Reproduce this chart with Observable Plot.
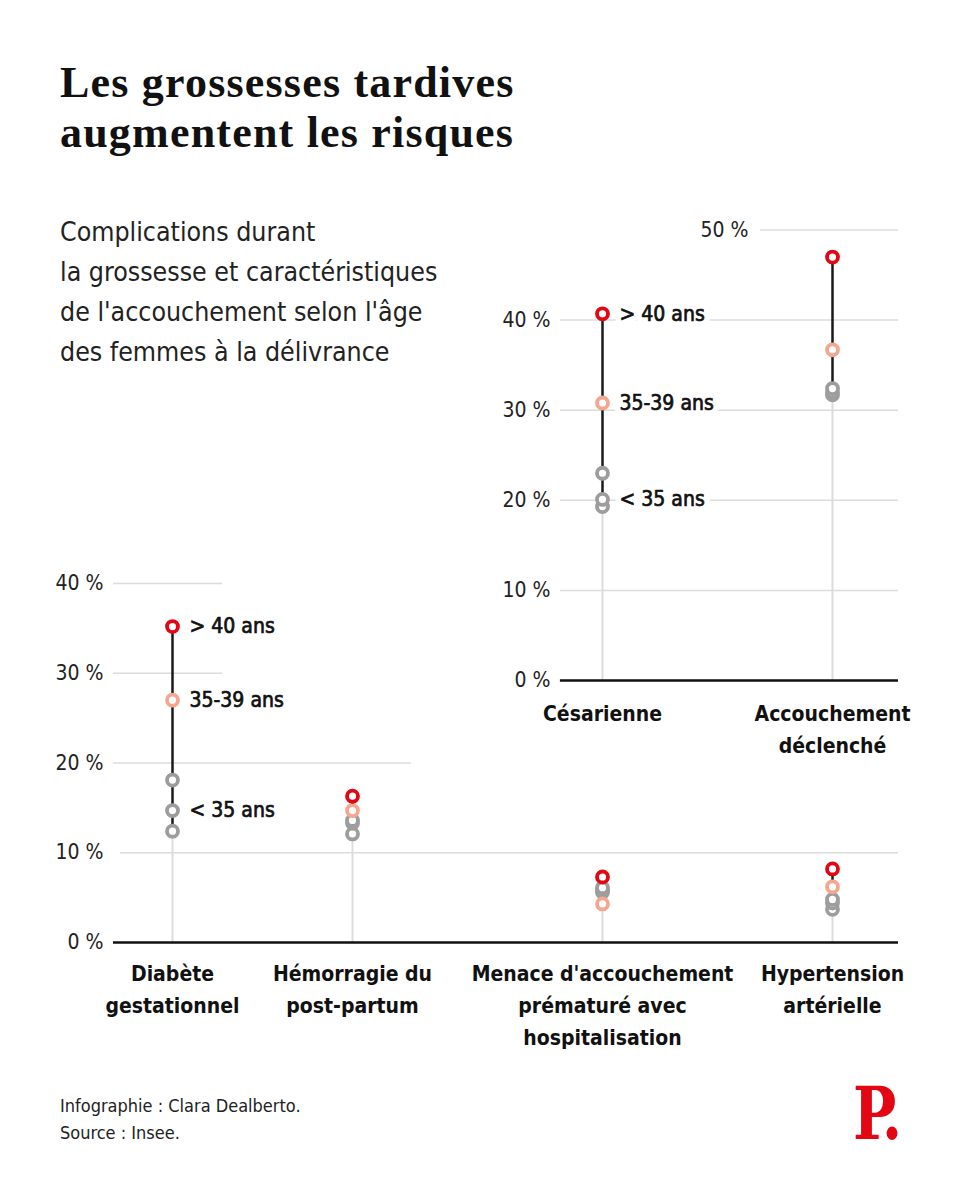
<!DOCTYPE html>
<html lang="fr">
<head>
<meta charset="utf-8">
<script src="https://cdn.jsdelivr.net/npm/d3@7"></script>
<script src="https://cdn.jsdelivr.net/npm/@observablehq/plot@0.6"></script>
<style>
  html, body { margin: 0; padding: 0; background: #fff; }
  #page { position: relative; width: 960px; height: 1201px; background: #fff; overflow: hidden; }
  .cond { font-family: "Liberation Sans Narrow", "DejaVu Sans Condensed", "Roboto Condensed", Roboto, sans-serif; }
  #title { position: absolute; left: 60px; top: 58px; margin: 0; font-family: "Liberation Serif", serif; font-weight: 700; font-size: 44px; letter-spacing: 1.2px; line-height: 50px; color: #111; }
  #subtitle { position: absolute; left: 60px; top: 212px; font-size: 26.5px; line-height: 40px; color: #222; }
  #caption { position: absolute; left: 60px; top: 1092px; font-size: 18px; line-height: 27px; color: #222; }
  #logo { position: absolute; left: 853px; top: 1078px; font-family: "DejaVu Serif", serif; font-weight: 700; font-size: 72px; color: #e30613; letter-spacing: -6px; transform: scaleX(0.8); transform-origin: left top; line-height: 1; }
  #topChart { position: absolute; left: 0; top: 200px; }
  #bottomChart { position: absolute; left: 0; top: 560px; }
</style>
</head>
<body>
<div id="page">
  <h1 id="title">Les grossesses tardives<br>augmentent les risques</h1>
  <div id="subtitle" class="cond">Complications durant<br>la grossesse et caractéristiques<br>de l'accouchement selon l'âge<br>des femmes à la délivrance</div>
  <div id="bottomChart"></div>
  <div id="topChart"></div>
  <div id="caption" class="cond">Infographie : Clara Dealberto.<br>Source : Insee.</div>
  <div id="logo">P.</div>
</div>
<script>
// ---------- Data ----------
const ageGroups = ["< 35 ans", "35-39 ans", "> 40 ans"];

const bottomCategories = ["Diabète gestationnel", "Hémorragie du post-partum", "Menace d'accouchement prématuré avec hospitalisation", "Hypertension artérielle"];
const bottomTickLabels = ["Diabète\ngestationnel", "Hémorragie du\npost-partum", "Menace d'accouchement\nprématuré avec\nhospitalisation", "Hypertension\nartérielle"];
const bottomUnder35 = [[12.4, 14.7, 18.1], [12.1, 13.3, 13.6], [5.6, 5.8, 6.1], [3.7, 4.4, 4.8]];
const bottom35to39 = [27.0, 14.7, 4.3, 6.2];
const bottomOver40 = [35.2, 16.3, 7.3, 8.2];
const bottomYTicks = [0, 10, 20, 30, 40];

const topCategories = ["Césarienne", "Accouchement déclenché"];
const topTickLabels = ["Césarienne", "Accouchement\ndéclenché"];
const topUnder35 = [[19.3, 20.1, 23.0], [31.7, 32.0, 32.4]];
const top35to39 = [30.8, 36.7];
const topOver40 = [40.7, 47.0];
const topYTicks = [0, 10, 20, 30, 40];
const topYTickHigh = [50];

// ---------- Styling / layout ----------
const COND = '"Liberation Sans Narrow", "DejaVu Sans Condensed", "Roboto Condensed", Roboto, sans-serif';
const colorScale = {domain: ageGroups, range: ["#9d9d9d", "#f5a68e", "#e30613"]};
const GRID = "#dcdcdc";
// column placement (piecewise x scale) and gridline extents in column units
const bottomColumnRange = [172, 352, 602, 832];
const topColumnRange = [602, 832];
const bottomGridExtent = {0: [-0.328, 3.287], 10: [-0.289, 3.287], 20: [-0.328, 1.236], 30: [-0.328, 0.278], 40: [-0.328, 0.278]};
const topGridExtent = {0: [-0.183, 1.287], 10: [-0.183, 1.287], 20: [-0.183, 1.287], 30: [-0.183, 1.287], 40: [-0.183, 1.287], 50: [0.687, 1.287]};

function buildPanel(categories, under35, mid, over) {
  const points = [], stems = [];
  categories.forEach((c, i) => {
    const vals = [...under35[i], mid[i], over[i]];
    stems.push({i, category: c, min: d3.min(vals), max: d3.max(vals)});
  });
  categories.forEach((c, i) => under35[i].forEach(v => points.push({i, value: v, group: ageGroups[0]})));
  categories.forEach((c, i) => points.push({i, value: mid[i], group: ageGroups[1]}));
  categories.forEach((c, i) => points.push({i, value: over[i], group: ageGroups[2]}));
  const annots = [
    {i: 0, value: d3.median(under35[0]), label: ageGroups[0]},
    {i: 0, value: mid[0], label: ageGroups[1]},
    {i: 0, value: over[0], label: ageGroups[2]}
  ];
  return {points, stems, annots};
}

function panelMarks(panel, ticks, extent, tickLabels, n, xPad) {
  const grid = ticks.filter(t => t !== 0).map(t => ({v: t, a: extent[t][0], b: extent[t][1]}));
  return [
    Plot.ruleY(grid, {y: "v", x1: "a", x2: "b", stroke: GRID, strokeWidth: 1.5}),
    Plot.ruleX(panel.stems, {x: "i", y1: 0, y2: "min", stroke: GRID, strokeWidth: 2}),
    Plot.ruleX(panel.stems, {x: "i", y1: "min", y2: "max", stroke: "#1a1a1a", strokeWidth: 2.5}),
    Plot.ruleY([0], {x1: extent[0][0], x2: extent[0][1], stroke: "#111", strokeWidth: 2.5}),
    Plot.dot(panel.points, {x: "i", y: "value", r: 5.5, stroke: "group", strokeWidth: 3.8, fill: "white"}),
    Plot.text(panel.annots, {x: "i", y: "value", text: "label", dx: 17, textAnchor: "start", fontSize: 21, fontFamily: COND, fill: "white", stroke: "white", strokeWidth: 12, strokeLinejoin: "round"}),
    Plot.text(panel.annots, {x: "i", y: "value", text: "label", dx: 17, textAnchor: "start", fontSize: 21, fontFamily: COND, fill: "#111", stroke: "#111", strokeWidth: 0.7}),
    Plot.axisY(ticks, {tickSize: 0, tickPadding: 10, tickFormat: d => d + " %", fontSize: 21, fontFamily: COND, label: null}),
    Plot.axisX(d3.range(n), {tickSize: 0, tickPadding: xPad, tickFormat: i => tickLabels[i], fontSize: 21, fontWeight: 700, fontFamily: COND, lineHeight: 1.52, fill: "#111", stroke: "#111", strokeWidth: 0.4, label: null})
  ];
}

const bottom = buildPanel(bottomCategories, bottomUnder35, bottom35to39, bottomOver40);
const bottomPlot = Plot.plot({
  width: 960, height: 500,
  marginTop: 23, marginBottom: 118, marginLeft: 113, marginRight: 62,
  style: {background: "transparent", fontFamily: COND, color: "#222", overflow: "visible"},
  x: {type: "linear", domain: d3.range(bottomCategories.length), range: bottomColumnRange},
  y: {domain: [0, 40]},
  color: colorScale,
  marks: panelMarks(bottom, bottomYTicks, bottomGridExtent, bottomTickLabels, bottomCategories.length, 16)
});
document.getElementById("bottomChart").append(bottomPlot);

const top_ = buildPanel(topCategories, topUnder35, top35to39, topOver40);
const topMarks = panelMarks(top_, topYTicks, topGridExtent, topTickLabels, topCategories.length, 18);
topMarks.unshift(Plot.ruleY(topYTickHigh, {y: d => d, x1: topGridExtent[50][0], x2: topGridExtent[50][1], stroke: GRID, strokeWidth: 1.5}));
topMarks.push(Plot.text(topYTickHigh, {y: d => d, x: topGridExtent[50][0], dx: -12, text: d => d + " %", textAnchor: "end", fontSize: 21, fontFamily: COND, fill: "#222"}));
const topPlot = Plot.plot({
  width: 960, height: 570,
  marginTop: 29.5, marginBottom: 90, marginLeft: 560, marginRight: 62,
  style: {background: "transparent", fontFamily: COND, color: "#222", overflow: "visible"},
  x: {type: "linear", domain: d3.range(topCategories.length), range: topColumnRange},
  y: {domain: [0, 50]},
  color: colorScale,
  marks: topMarks
});
document.getElementById("topChart").append(topPlot);
</script>
</body>
</html>
